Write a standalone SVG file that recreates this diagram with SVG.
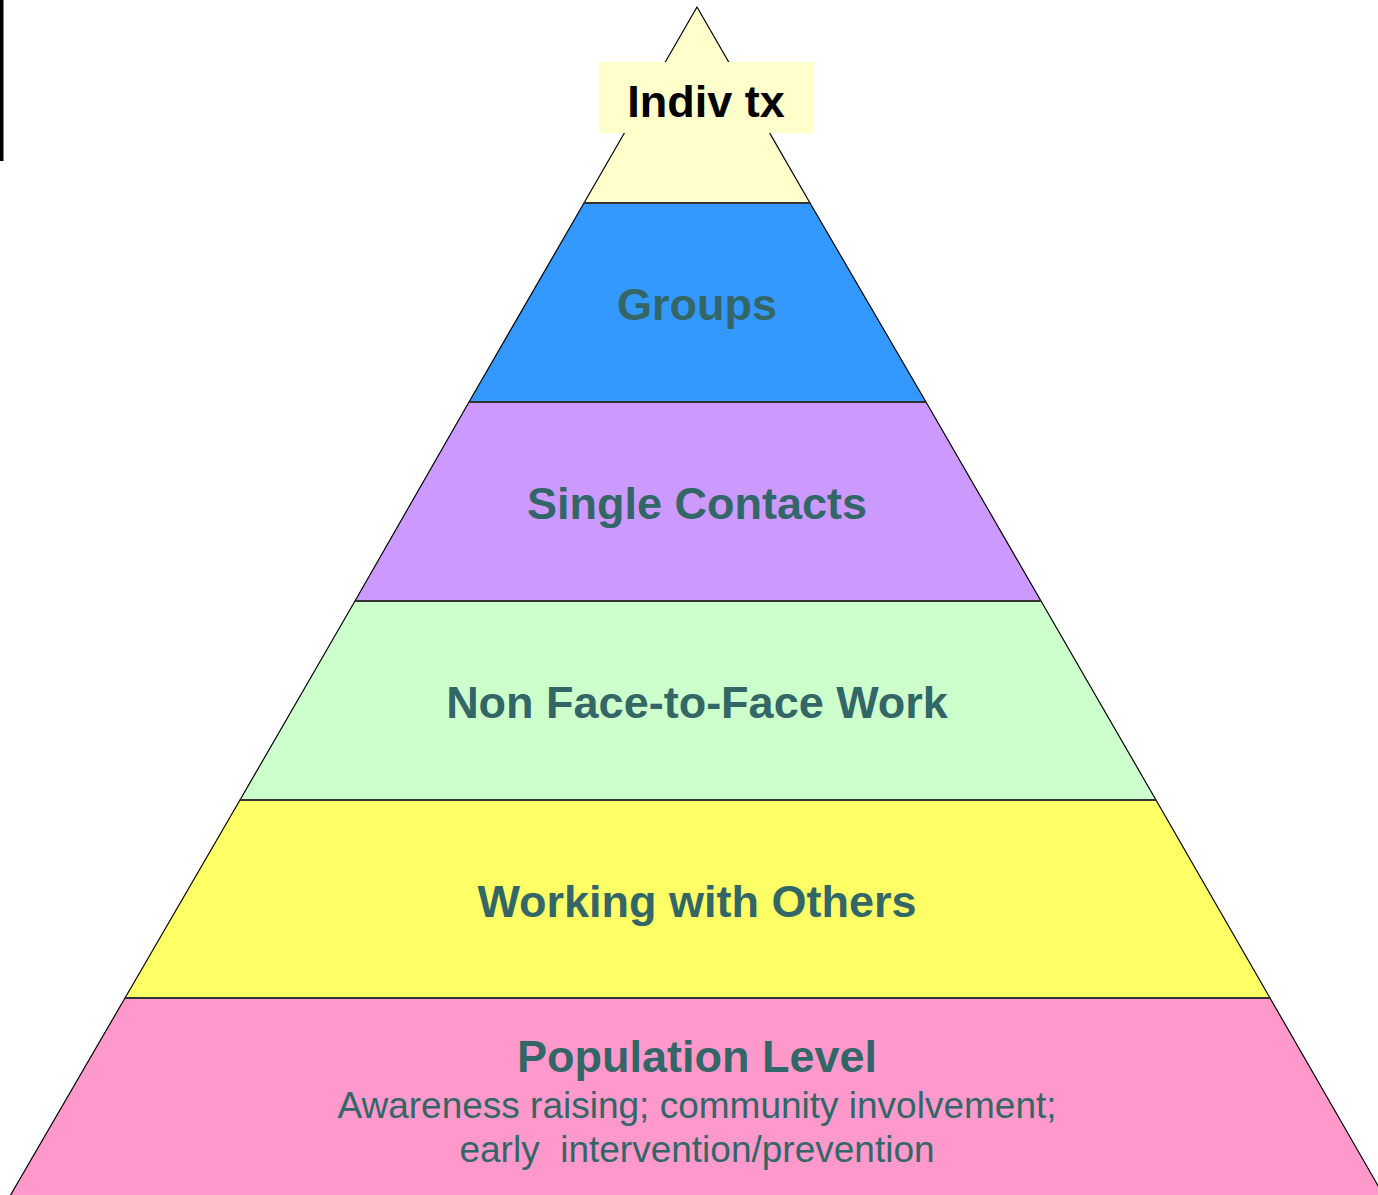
<svg xmlns="http://www.w3.org/2000/svg" width="1378" height="1195" viewBox="0 0 1378 1195">
<style>
.edge{stroke:#000;stroke-width:1.2;stroke-linejoin:round}
.div{stroke:#333;stroke-width:2}
.lbl{font-family:"Liberation Sans",Arial,sans-serif;font-weight:bold;font-size:45px;fill:#336666;text-anchor:middle}
.sub{font-family:"Liberation Sans",Arial,sans-serif;font-size:37px;fill:#336666;text-anchor:middle;white-space:pre}
</style>
<rect x="0" y="0" width="1378" height="1195" fill="#fff"/>
<rect x="0" y="0" width="3.5" height="161" fill="#000"/>
<g id="tier-top">
<polygon points="697,7 810,203 584,203" fill="#FFFFCC" class="edge"/>
<rect x="599" y="62" width="215" height="71" fill="#FFFFCC"/>
<text x="706" y="117" style="font-family:'Liberation Sans',Arial,sans-serif;font-weight:bold;font-size:45px;fill:#000;text-anchor:middle">Indiv tx</text>
</g>
<g id="tier-groups">
<polygon points="584,203 810,203 926,402 469,402" fill="#3399FF" class="edge"/>
<text class="lbl" x="697" y="320">Groups</text>
</g>
<g id="tier-single">
<polygon points="469,402 926,402 1041,601 355,601" fill="#CC99FF" class="edge"/>
<text class="lbl" x="697" y="519">Single Contacts</text>
</g>
<g id="tier-nonface">
<polygon points="355,601 1041,601 1156,800 240,800" fill="#CCFFCC" class="edge"/>
<text class="lbl" x="697" y="718">Non Face-to-Face Work</text>
</g>
<g id="tier-working">
<polygon points="240,800 1156,800 1270,998 125,998" fill="#FFFF66" class="edge"/>
<text class="lbl" x="697" y="917">Working with Others</text>
</g>
<g id="tier-population">
<polygon points="125,998 1270,998 1384,1196 10,1196" fill="#FF99CC" class="edge"/>
<text class="lbl" x="697" y="1072">Population Level</text>
<text class="sub" x="697" y="1118">Awareness raising; community involvement;</text>
<text class="sub" x="697" y="1162" xml:space="preserve">early  intervention/prevention</text>
</g>
<g id="dividers">
<line class="div" x1="584" y1="203" x2="810" y2="203"/>
<line class="div" x1="469" y1="402" x2="926" y2="402"/>
<line class="div" x1="355" y1="601" x2="1041" y2="601"/>
<line class="div" x1="240" y1="800" x2="1156" y2="800"/>
<line class="div" x1="125" y1="998" x2="1270" y2="998"/>
</g>
</svg>
